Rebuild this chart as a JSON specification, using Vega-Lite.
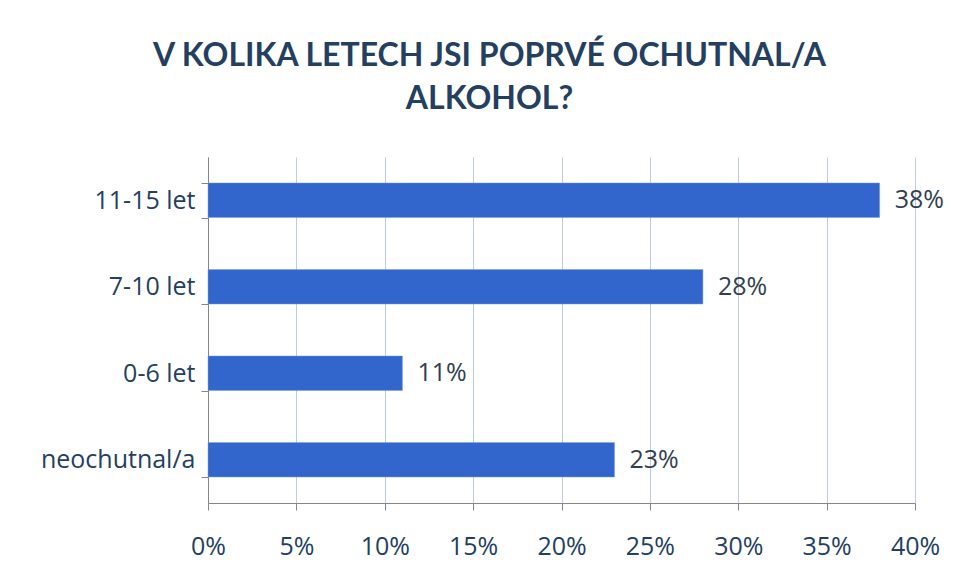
{
  "$schema": "https://vega.github.io/schema/vega-lite/v6.json",
  "autosize": "none",
  "width": 707,
  "height": 346,
  "padding": {"left": 208, "top": 157, "right": 43, "bottom": 79},
  "background": "white",
  "title": {
    "text": ["V KOLIKA LETECH JSI POPRVÉ OCHUTNAL/A", "ALKOHOL?"],
    "font": "Lato",
    "fontSize": 32,
    "fontWeight": "bold",
    "color": "#243F60",
    "anchor": "middle",
    "frame": "group",
    "dx": -72,
    "offset": 29,
    "lineHeight": 43
  },
  "data": {
    "values": [
      {"vek": "11-15 let", "podil": 0.38},
      {"vek": "7-10 let", "podil": 0.28},
      {"vek": "0-6 let", "podil": 0.11},
      {"vek": "neochutnal/a", "podil": 0.23}
    ]
  },
  "encoding": {
    "y": {
      "field": "vek",
      "type": "nominal",
      "sort": null,
      "title": null,
      "scale": {"paddingInner": 0.6, "paddingOuter": 0.3},
      "axis": {
        "domainColor": "#868686",
        "tickColor": "#868686",
        "tickSize": 7,
        "tickBand": "extent",
        "labelFont": "Open Sans",
        "labelFontSize": 25,
        "labelColor": "#243F60",
        "labelPadding": 6,
        "grid": false
      }
    },
    "x": {
      "field": "podil",
      "type": "quantitative",
      "title": null,
      "scale": {"domain": [0, 0.4], "nice": false},
      "axis": {
        "values": [0, 0.05, 0.1, 0.15, 0.2, 0.25, 0.3, 0.35, 0.4],
        "format": ".0%",
        "labelFlush": false,
        "labelOverlap": false,
        "domainColor": "#868686",
        "tickColor": "#868686",
        "tickSize": 7,
        "grid": true,
        "gridColor": "#B9CDE5",
        "gridWidth": 1,
        "labelFont": "Open Sans",
        "labelFontSize": 25,
        "labelColor": "#243F60",
        "labelPadding": 24
      }
    }
  },
  "layer": [
    {"mark": {"type": "bar", "color": "#3366CC", "stroke": "#7FA0E0", "strokeWidth": 0.5}},
    {
      "mark": {"type": "text", "align": "left", "baseline": "middle", "dx": 15, "font": "Open Sans", "fontSize": 25, "color": "#333F4F"},
      "encoding": {"text": {"field": "podil", "type": "quantitative", "format": ".0%"}}
    }
  ],
  "config": {"view": {"stroke": null}}
}
